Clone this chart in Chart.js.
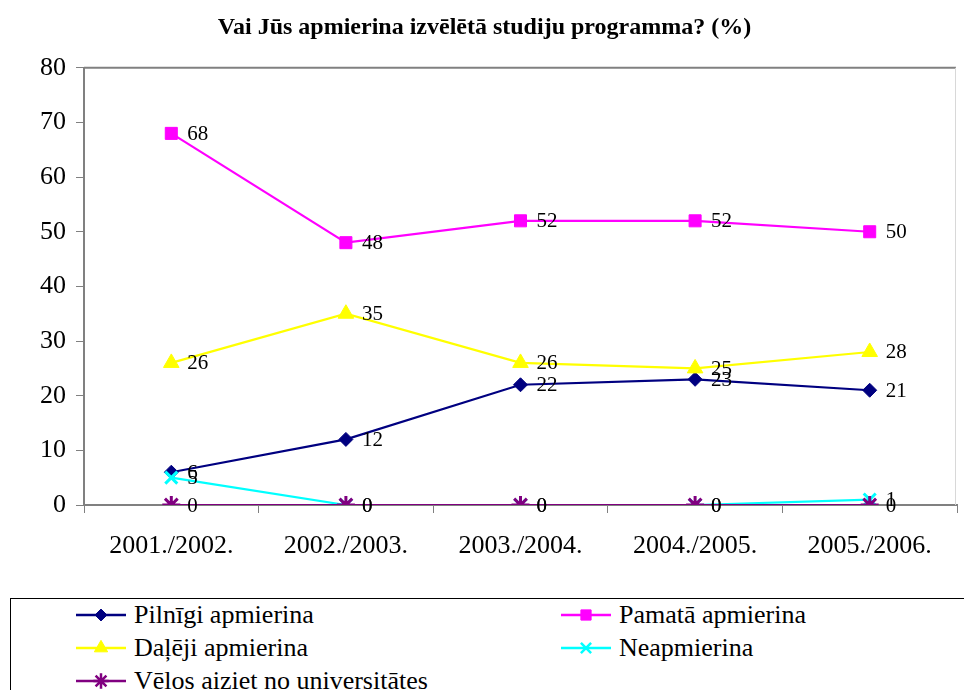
<!DOCTYPE html>
<html lang="lv">
<head>
<meta charset="utf-8">
<title>Vai Jūs apmierina izvēlētā studiju programma?</title>
<script src="https://cdn.jsdelivr.net/npm/chart.js@4/dist/chart.umd.min.js"></script>
<style>
  html, body { margin: 0; padding: 0; background: #fff; }
  #wrap { position: relative; width: 964px; height: 690px; overflow: hidden; }
  #chartBox { position: absolute; left: 0; top: 0; width: 969px; height: 590px; }
  #legend {
    position: absolute; left: 10px; top: 598px; width: 970px; height: 110px;
    border: 1px solid #000; font-family: 'Liberation Serif', 'Times New Roman', Times, serif;
    font-size: 26px; color: #000;
  }
  .lg-item { position: absolute; display: flex; align-items: center; height: 30px; white-space: nowrap; }
  .lg-item canvas { margin-right: 7px; }
</style>
</head>
<body>
<div id="wrap">
  <div id="chartBox"><canvas id="chart"></canvas></div>
  <div id="legend"></div>
</div>
<script>
// dati
const periodi = ['2001./2002.', '2002./2003.', '2003./2004.', '2004./2005.', '2005./2006.'];
const pilnigi = [6, 12, 22, 23, 21];
const pamata = [68, 48, 52, 52, 50];
const daleji = [26, 35, 26, 25, 28];
const neapmierina = [5, 0, 0, 0, 1];
const velosAiziet = [0, 0, 0, 0, 0];
const yTicks = [0, 10, 20, 30, 40, 50, 60, 70, 80];

const serif = "'Liberation Serif', 'Times New Roman', Times, serif";

const series = [
  { label: 'Pilnīgi apmierina', data: pilnigi, color: '#000080', style: 'rectRot', r: 7 },
  { label: 'Pamatā apmierina', data: pamata, color: '#FF00FF', style: 'rect', r: 8.5 },
  { label: 'Daļēji apmierina', data: daleji, color: '#FFFF00', style: 'triangle', r: 9 },
  { label: 'Neapmierina', data: neapmierina, color: '#00FFFF', style: 'crossRot', r: 8.5 },
  { label: 'Vēlos aiziet no universitātes', data: velosAiziet, color: '#800080', style: 'star', r: 9 },
];

// vērtību uzraksti pie punktiem
const valueLabels = {
  id: 'valueLabels',
  afterDatasetsDraw(chart) {
    const ctx = chart.ctx;
    ctx.save();
    ctx.font = '21px ' + serif;
    ctx.fillStyle = '#000';
    ctx.textAlign = 'left';
    ctx.textBaseline = 'middle';
    chart.data.datasets.forEach((ds, i) => {
      const meta = chart.getDatasetMeta(i);
      meta.data.forEach((pt, j) => {
        ctx.fillText(String(ds.data[j]), pt.x + 16, pt.y + 1);
      });
    });
    ctx.restore();
  }
};

// augšējā un labā rāmja līnija
const plotFrame = {
  id: 'plotFrame',
  beforeDatasetsDraw(chart) {
    const { ctx, chartArea: a } = chart;
    ctx.save();
    ctx.strokeStyle = '#808080';
    ctx.lineWidth = 2;
    ctx.beginPath();
    ctx.moveTo(a.left, a.top);
    ctx.lineTo(a.right - 1, a.top);
    ctx.stroke();
    ctx.strokeStyle = '#d8d8d8';
    ctx.lineWidth = 1;
    ctx.beginPath();
    ctx.moveTo(a.right - 1.5, a.top);
    ctx.lineTo(a.right - 1.5, a.bottom);
    ctx.stroke();
    ctx.restore();
  }
};

const chart = new Chart(document.getElementById('chart').getContext('2d'), {
  type: 'line',
  data: {
    labels: periodi,
    datasets: series.map((s, i) => ({
      label: s.label,
      data: s.data,
      borderColor: s.color,
      backgroundColor: s.color,
      borderWidth: 2.2,
      pointStyle: s.style,
      pointRadius: s.r,
      pointHoverRadius: s.r,
      pointBorderWidth: (s.style === 'crossRot' || s.style === 'star') ? 3 : 1,
      pointBorderColor: s.color,
      pointBackgroundColor: s.color,
      tension: 0,
      fill: false,
      order: series.length - i,
    })),
  },
  options: {
    responsive: true,
    maintainAspectRatio: false,
    animation: false,
    layout: { padding: { left: 0, right: 0, top: 0, bottom: 0 } },
    plugins: {
      legend: { display: false },
      tooltip: { enabled: false },
      title: {
        display: true,
        text: 'Vai Jūs apmierina izvēlētā studiju programma? (%)',
        color: '#000',
        font: { family: serif, size: 24, weight: 'bold' },
        padding: { top: 13, bottom: 26 },
      },
    },
    scales: {
      x: {
        offset: true,
        grid: { offset: true, drawOnChartArea: false, drawTicks: true, tickLength: 8, color: '#808080', lineWidth: 1 },
        border: { color: '#808080', width: 2 },
        ticks: { color: '#000', font: { family: serif, size: 26 }, padding: 18, maxRotation: 0 },
        afterFit(scale) {
          scale.height = 85;
          scale.paddingLeft = 0;
          scale.paddingRight = 0;
        },
      },
      y: {
        min: 0,
        max: 80,
        afterBuildTicks(scale) { scale.ticks = yTicks.map((v) => ({ value: v })); },
        grid: { drawOnChartArea: false, drawTicks: true, tickLength: 8, color: '#808080', lineWidth: 1 },
        border: { color: '#808080', width: 2 },
        ticks: { color: '#000', font: { family: serif, size: 26 }, padding: 10 },
        afterFit(scale) { scale.width = 84; },
      },
    },
  },
  plugins: [plotFrame, valueLabels],
});

// leģenda
function buildLegend() {
  const box = document.getElementById('legend');
  const pos = [
    { left: 64, top: 1 }, { left: 549, top: 1 },
    { left: 64, top: 34 }, { left: 549, top: 34 },
    { left: 64, top: 67 },
  ];
  series.forEach((s, i) => {
    const item = document.createElement('div');
    item.className = 'lg-item';
    item.style.left = pos[i].left + 'px';
    item.style.top = pos[i].top + 'px';
    const c = document.createElement('canvas');
    c.width = 52; c.height = 30;
    const g = c.getContext('2d');
    g.strokeStyle = s.color;
    g.lineWidth = 2.5;
    g.beginPath(); g.moveTo(1, 15); g.lineTo(51, 15); g.stroke();
    g.fillStyle = s.color;
    g.lineWidth = (s.style === 'crossRot' || s.style === 'star') ? 2.5 : 1;
    Chart.helpers.drawPoint(g, { pointStyle: s.style, radius: s.r * 0.85, borderWidth: g.lineWidth }, 26, 15);
    item.appendChild(c);
    const t = document.createElement('span');
    t.textContent = s.label;
    item.appendChild(t);
    box.appendChild(item);
  });
}
buildLegend();
</script>
</body>
</html>
